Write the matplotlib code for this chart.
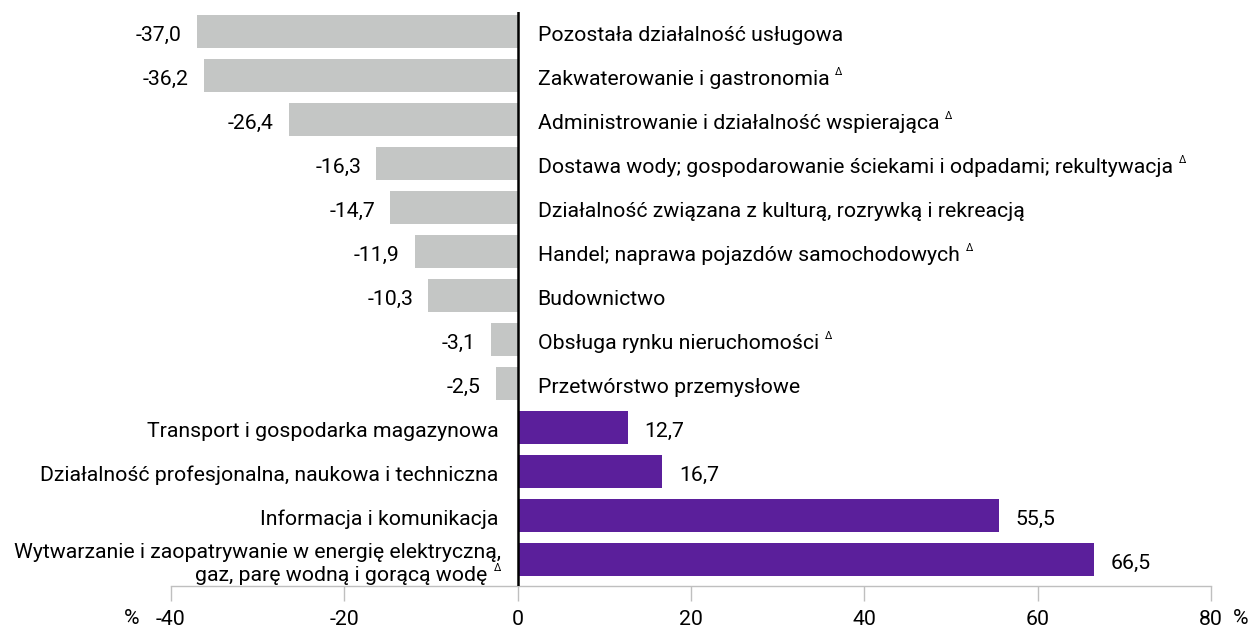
import matplotlib
matplotlib.use("Agg")
import matplotlib.pyplot as plt

plt.rcParams['font.family'] = ['Roboto', 'DejaVu Sans']

categories = [
    "Pozostała działalność usługowa",
    "Zakwaterowanie i gastronomia",
    "Administrowanie i działalność wspierająca",
    "Dostawa wody; gospodarowanie ściekami i odpadami; rekultywacja",
    "Działalność związana z kulturą, rozrywką i rekreacją",
    "Handel; naprawa pojazdów samochodowych",
    "Budownictwo",
    "Obsługa rynku nieruchomości",
    "Przetwórstwo przemysłowe",
    "Transport i gospodarka magazynowa",
    "Działalność profesjonalna, naukowa i techniczna",
    "Informacja i komunikacja",
    "Wytwarzanie i zaopatrywanie w energię elektryczną,\ngaz, parę wodną i gorącą wodę",
]
values = [-37.0, -36.2, -26.4, -16.3, -14.7, -11.9, -10.3, -3.1, -2.5, 12.7, 16.7, 55.5, 66.5]
delta_flags = [False, True, True, True, False, True, False, True, False, False, False, False, True]
xticks = [-40, -20, 0, 20, 40, 60, 80]

GRAY = "#C4C6C5"
PURPLE = "#5B1F9B"
FS = 15.3
DFS = 7.5
DY = -4  # text drop in pixels

fig = plt.figure(figsize=(12.55, 6.31), dpi=100)
ax = fig.add_axes([171/1255, 45/631, (1211-171)/1255, (586-12)/631])

pos = list(range(len(values)))
colors = [GRAY if v < 0 else PURPLE for v in values]
ax.barh(pos, values, height=0.75, color=colors, edgecolor='none', zorder=2)

ax.set_xlim(-40, 80)
ax.set_ylim(12.6, -0.44)
ax.axvline(0, color='black', lw=1.8, zorder=3)

for i, (cat, v, d) in enumerate(zip(categories, values, delta_flags)):
    lbl = f"{v:.1f}".replace('.', ',')
    if v < 0:
        ax.annotate(lbl, xy=(v, i), xytext=(-15, DY), textcoords='offset pixels',
                    ha='right', va='center', fontsize=FS)
        t = ax.annotate(cat, xy=(0, i), xytext=(20, DY), textcoords='offset pixels',
                        ha='left', va='center', fontsize=FS)
        if d:
            ax.annotate("Δ", xy=(1, 0.88), xycoords=t, xytext=(6, 0),
                        textcoords='offset pixels', ha='left', va='center', fontsize=DFS)
    else:
        ax.annotate(lbl, xy=(v, i), xytext=(17, DY), textcoords='offset pixels',
                    ha='left', va='center', fontsize=FS)
        lines = cat.split("\n")
        if len(lines) == 1:
            ax.annotate(cat, xy=(0, i), xytext=(-19, DY), textcoords='offset pixels',
                        ha='right', va='center', fontsize=FS)
        else:
            ax.annotate(lines[0], xy=(0, i), xytext=(-17, 11 + DY), textcoords='offset pixels',
                        ha='right', va='center', fontsize=FS)
            t = ax.annotate(lines[1], xy=(0, i), xytext=(-30 if d else -19, -12 + DY),
                            textcoords='offset pixels', ha='right', va='center', fontsize=FS)
            if d:
                ax.annotate("Δ", xy=(1, 0.88), xycoords=t, xytext=(6, 0),
                            textcoords='offset pixels', ha='left', va='center', fontsize=DFS)

ax.set_yticks([])
ax.set_xticks(xticks)
ax.set_xticklabels([str(x) for x in xticks], fontsize=FS)
ax.tick_params(axis='x', direction='out', length=11, width=1, color='#BFBFBF', pad=6)
for s in ['top', 'right', 'left']:
    ax.spines[s].set_visible(False)
ax.spines['bottom'].set_color('#BFBFBF')
ax.spines['bottom'].set_linewidth(1)

fig.text(124/1255, 1 - 619/631, "%", ha='left', va='center', fontsize=FS)
fig.text(1233/1255, 1 - 619/631, "%", ha='left', va='center', fontsize=FS)

fig.savefig("out.png", dpi=100)
